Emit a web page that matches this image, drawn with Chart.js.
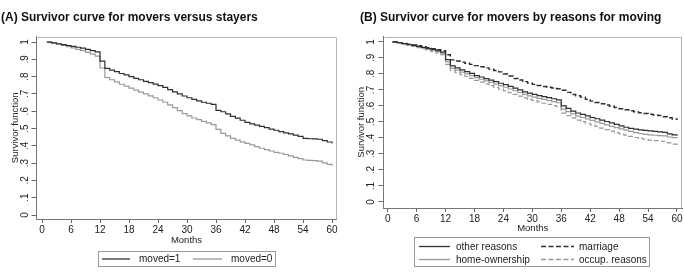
<!DOCTYPE html>
<html>
<head>
<meta charset="utf-8">
<script src="https://cdn.jsdelivr.net/npm/chart.js@4.4.1/dist/chart.umd.min.js"></script>
<style>
  html, body { margin:0; padding:0; background:#fff; }
  body { width:684px; height:274px; position:relative; overflow:hidden; font-family:"Liberation Sans", Arial, Helvetica, sans-serif; }
  canvas { position:absolute; top:0; }
  .title { position:absolute; font-weight:bold; font-size:12px; line-height:15px; color:#111; white-space:nowrap; }
  .lgbox { position:absolute; border:1px solid #9a9a9a; box-sizing:border-box; background:#fff; }
  .lgtext { position:absolute; font-size:10px; line-height:12px; color:#222; white-space:nowrap; }
  svg.lg { position:absolute; left:0; top:0; overflow:visible; }
</style>
</head>
<body>
<canvas id="cA" width="342" height="274" style="left:0"></canvas>
<canvas id="cB" width="342" height="274" style="left:342px"></canvas>

<div class="title" style="left:1px; top:10px;">(A) Survivor curve for movers versus stayers</div>
<div class="title" style="left:360px; top:10px;">(B) Survivor curve for movers by reasons for moving</div>

<div class="lgbox" style="left:98px; top:251px; width:178px; height:16px;"></div>
<div class="lgbox" style="left:414px; top:237px; width:236px; height:30px;"></div>
<svg class="lg" width="684" height="274">
  <line x1="102" y1="259" x2="130" y2="259" stroke="#333" stroke-width="1.3"/>
  <line x1="193" y1="259" x2="222" y2="259" stroke="#999" stroke-width="1.3"/>
  <line x1="419" y1="246.5" x2="450" y2="246.5" stroke="#333" stroke-width="1.3"/>
  <line x1="419" y1="259.5" x2="450" y2="259.5" stroke="#999" stroke-width="1.3"/>
  <line x1="541" y1="246.5" x2="574" y2="246.5" stroke="#333" stroke-width="1.5" stroke-dasharray="5,2.5"/>
  <line x1="541" y1="259.5" x2="574" y2="259.5" stroke="#999" stroke-width="1.3" stroke-dasharray="5,2.5"/>
</svg>
<div class="lgtext" style="left:139px; top:253px;">moved=1</div>
<div class="lgtext" style="left:231px; top:253px;">moved=0</div>
<div class="lgtext" style="left:456px; top:240.5px;">other reasons</div>
<div class="lgtext" style="left:456px; top:253.5px;">home-ownership</div>
<div class="lgtext" style="left:579px; top:240.5px;">marriage</div>
<div class="lgtext" style="left:579px; top:253.5px;">occup. reasons</div>

<script>
// ---------- DATA ----------
const months = [1,2,3,4,5,6,7,8,9,10,11,12,13,14,15,16,17,18,19,20,21,22,23,24,25,26,27,28,29,30,
                31,32,33,34,35,36,37,38,39,40,41,42,43,44,45,46,47,48,49,50,51,52,53,54,55,56,57,58,59,60];

const xTickValues = [0,6,12,18,24,30,36,42,48,54,60];
const xTickLabels = ['0','6','12','18','24','30','36','42','48','54','60'];
const yTickValues = [0,0.1,0.2,0.3,0.4,0.5,0.6,0.7,0.8,0.9,1];
const yTickLabels = ['0','.1','.2','.3','.4','.5','.6','.7','.8','.9','1'];

// Panel A
const moved1 = [1.000,0.995,0.990,0.985,0.980,0.975,0.970,0.965,0.958,0.950,0.943,0.890,0.848,0.838,0.829,0.818,0.810,0.800,0.790,0.782,
                0.773,0.765,0.757,0.748,0.738,0.725,0.712,0.700,0.688,0.678,0.668,0.660,0.652,0.646,0.640,0.605,0.597,0.585,0.570,0.560,
                0.548,0.535,0.527,0.520,0.512,0.505,0.497,0.490,0.482,0.475,0.469,0.462,0.455,0.443,0.441,0.440,0.438,0.430,0.422,0.414];
const moved0 = [1.000,0.993,0.986,0.980,0.973,0.966,0.958,0.950,0.940,0.930,0.918,0.850,0.795,0.782,0.770,0.756,0.745,0.733,0.722,0.711,
                0.700,0.689,0.678,0.665,0.652,0.637,0.621,0.604,0.586,0.573,0.561,0.551,0.541,0.533,0.522,0.495,0.472,0.458,0.443,0.433,
                0.423,0.414,0.405,0.395,0.386,0.378,0.370,0.362,0.357,0.350,0.342,0.333,0.326,0.318,0.316,0.314,0.312,0.302,0.293,0.285];

// Panel B
const otherReasons = [1.000,0.995,0.990,0.984,0.978,0.972,0.966,0.960,0.953,0.945,0.937,0.890,0.850,0.838,0.826,0.815,0.803,0.790,0.781,0.771,
                      0.762,0.752,0.742,0.733,0.722,0.712,0.700,0.688,0.680,0.672,0.665,0.658,0.652,0.645,0.638,0.600,0.585,0.568,0.556,0.548,
                      0.538,0.528,0.520,0.512,0.503,0.494,0.485,0.476,0.467,0.460,0.455,0.450,0.447,0.444,0.441,0.438,0.435,0.425,0.419,0.414];
const homeOwnership = [1.000,0.994,0.988,0.982,0.976,0.969,0.962,0.955,0.947,0.939,0.930,0.875,0.835,0.824,0.812,0.800,0.789,0.777,0.767,0.757,
                       0.747,0.737,0.727,0.717,0.706,0.695,0.684,0.672,0.663,0.655,0.648,0.641,0.634,0.627,0.620,0.580,0.565,0.550,0.537,0.528,
                       0.519,0.510,0.500,0.491,0.482,0.473,0.465,0.457,0.449,0.441,0.434,0.428,0.423,0.419,0.417,0.415,0.413,0.406,0.402,0.398];
const marriage = [1.000,0.996,0.991,0.986,0.981,0.976,0.970,0.964,0.958,0.951,0.945,0.920,0.888,0.881,0.874,0.867,0.860,0.852,0.845,0.838,
                  0.830,0.822,0.813,0.800,0.787,0.772,0.762,0.752,0.743,0.735,0.728,0.722,0.717,0.712,0.708,0.698,0.685,0.672,0.664,0.655,
                  0.642,0.630,0.622,0.614,0.606,0.598,0.590,0.583,0.576,0.570,0.564,0.558,0.553,0.548,0.544,0.540,0.533,0.526,0.519,0.512];
const occupReasons = [1.000,0.993,0.986,0.979,0.972,0.965,0.957,0.949,0.940,0.931,0.921,0.860,0.820,0.808,0.796,0.784,0.772,0.760,0.749,0.738,
                      0.727,0.716,0.705,0.694,0.683,0.672,0.661,0.650,0.641,0.633,0.625,0.617,0.610,0.602,0.595,0.555,0.540,0.525,0.512,0.502,
                      0.492,0.482,0.472,0.462,0.452,0.443,0.434,0.426,0.418,0.410,0.403,0.397,0.392,0.387,0.384,0.381,0.378,0.369,0.362,0.356];

// ---------- helpers ----------
const FONT = '"Liberation Sans", Arial, Helvetica, sans-serif';
const DARK = '#2e2e2e', GREY = '#999999';
const pts = arr => months.map((m, i) => ({x: m, y: arr[i]}));

const yLabelsPlugin = {
  id: 'yLabels',
  afterDraw(chart, args, opts) {
    const s = chart.scales.y, ctx = chart.ctx;
    ctx.save();
    ctx.font = '10px ' + FONT;
    ctx.fillStyle = '#222';
    ctx.textAlign = 'center';
    ctx.textBaseline = 'middle';
    yTickValues.forEach((v, i) => {
      const y = s.getPixelForValue(v);
      ctx.save();
      ctx.translate(chart.chartArea.left - opts.offset, y);
      ctx.rotate(-Math.PI / 2);
      ctx.fillText(yTickLabels[i], 0, 0);
      ctx.restore();
    });
    ctx.restore();
  }
};
const framePlugin = {
  id: 'frame',
  afterDraw(chart) {
    const {left, top, right, bottom} = chart.chartArea, ctx = chart.ctx;
    ctx.save();
    ctx.strokeStyle = '#b4b4b4';
    ctx.lineWidth = 1;
    ctx.beginPath();
    ctx.moveTo(Math.round(left) + 0.5, Math.round(top) + 0.5);
    ctx.lineTo(Math.round(right) - 0.5, Math.round(top) + 0.5);
    ctx.lineTo(Math.round(right) - 0.5, Math.round(bottom));
    ctx.stroke();
    ctx.restore();
  }
};

function makeChart(id, datasets, g) {
  return new Chart(document.getElementById(id), {
    type: 'line',
    data: {datasets},
    plugins: [yLabelsPlugin, framePlugin],
    options: {
      responsive: false,
      animation: false,
      devicePixelRatio: 1,
      layout: {padding: {left: 0, top: g.top, right: g.right, bottom: g.bottom}},
      elements: {point: {radius: 0}, line: {tension: 0, borderWidth: 1.2, fill: false}},
      plugins: {legend: {display: false}, title: {display: false}, tooltip: {enabled: false}, yLabels: {offset: g.yLabOff}},
      scales: {
        x: {
          type: 'linear', min: g.xmin, max: g.xmax,
          afterBuildTicks: s => { s.ticks = xTickValues.map(v => ({value: v})); },
          afterFit: s => { s.height = g.xh; },
          ticks: {callback: (v) => xTickLabels[xTickValues.indexOf(v)], font: {size: 10, family: FONT}, color: '#222', padding: 1, maxRotation: 0, autoSkip: false},
          grid: {display: true, drawOnChartArea: false, drawTicks: true, tickLength: 4, tickColor: '#666'},
          border: {display: true, color: '#777', width: 1},
          title: {display: true, text: 'Months', font: {size: 9.5, family: FONT}, color: '#222', padding: {top: 0, bottom: 0}}
        },
        y: {
          type: 'linear', min: g.ymin, max: g.ymax,
          afterBuildTicks: s => { s.ticks = yTickValues.map(v => ({value: v})); },
          afterFit: s => { s.width = g.yw; },
          ticks: {display: false},
          grid: {display: true, drawOnChartArea: false, drawTicks: true, tickLength: 5, tickColor: '#666'},
          border: {display: true, color: '#777', width: 1},
          title: {display: true, text: 'Survivor function', font: {size: 9.5, family: FONT}, color: '#222', padding: {top: g.ytPad, bottom: 0}}
        }
      }
    }
  });
}

makeChart('cA', [
  {label: 'moved=1', data: pts(moved1), borderColor: DARK, stepped: true},
  {label: 'moved=0', data: pts(moved0), borderColor: GREY, stepped: true}
], {top: 36.5, right: 5.5, bottom: 28, xh: 27, yw: 36.5, xmin: -1.14, xmax: 60.93, ymin: -0.023, ymax: 1.032, yLabOff: 11.5, ytPad: 9.3});

makeChart('cB', [
  {label: 'other reasons', data: pts(otherReasons), borderColor: DARK, stepped: true},
  {label: 'home-ownership', data: pts(homeOwnership), borderColor: GREY, stepped: true},
  {label: 'marriage', data: pts(marriage), borderColor: DARK, borderDash: [5, 2.5], borderWidth: 1.4, stepped: true},
  {label: 'occup. reasons', data: pts(occupReasons), borderColor: GREY, borderDash: [5, 2.5], stepped: true}
], {top: 36.5, right: 2, bottom: 40, xh: 26, yw: 41.5, xmin: -0.87, xmax: 61.04, ymin: -0.0375, ymax: 1.034, yLabOff: 12.2, ytPad: 13.3});
</script>
</body>
</html>
